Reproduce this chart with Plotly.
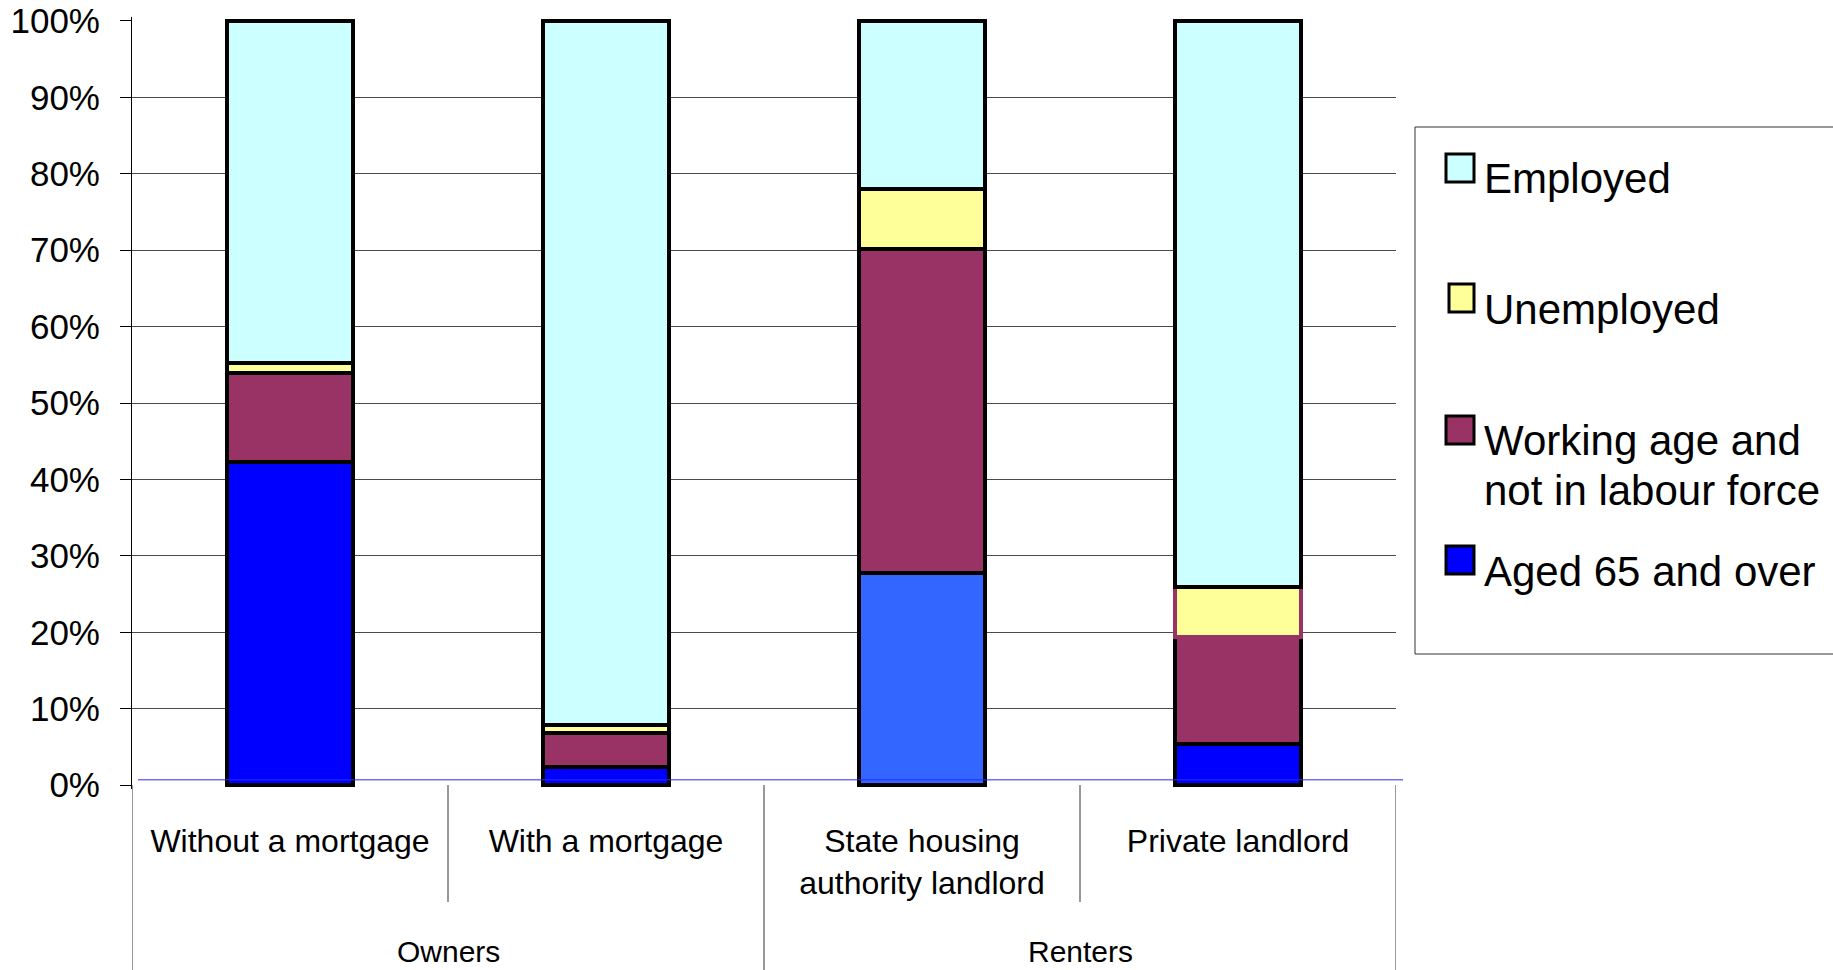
import plotly.graph_objects as go

# ---- data -------------------------------------------------------------
tenure = ["Without a mortgage", "With a mortgage",
          "State housing<br>authority landlord", "Private landlord"]
tenure_group = ["Owners", "Owners", "Renters", "Renters"]
group_names = ["Owners", "Renters"]

aged_65 = [42.3, 2.4, 27.7, 5.4]
working_age_nilf = [11.6, 4.4, 42.5, 14.0]
unemployed = [1.3, 1.1, 7.8, 6.5]
employed = [44.8, 92.1, 22.0, 74.1]

series_names = ["Employed", "Unemployed",
                "Working age and<br>not in labour force", "Aged 65 and over"]
series_colors = ["#CCFFFF", "#FFFF99", "#993366", "#0000FF"]
aged_colors = ["#0000FF", "#0000FF", "#3366FF", "#0000FF"]
unemployed_outline = ["#000000", "#000000", "#000000", "#993366"]

y_ticks = [0, 10, 20, 30, 40, 50, 60, 70, 80, 90, 100]
y_ticktext = [f"{v}%" for v in y_ticks]

# ---- geometry ---------------------------------------------------------
W, H = 1833, 970
ML, MR, MT, MB = 132, 437, 17, 181
PW, PH = W - ML - MR, H - MT - MB
FONT = "Arial, Liberation Sans, sans-serif"


def px_x(px):
    return (px - ML) / PW


def px_y(py):
    return (H - MB - py) / PH


fig = go.Figure()

stack = [
    ("Aged 65 and over", aged_65, aged_colors, "#000000"),
    ("Working age and not in labour force", working_age_nilf, series_colors[2], "#000000"),
    ("Unemployed", unemployed, series_colors[1], unemployed_outline),
    ("Employed", employed, series_colors[0], "#000000"),
]
for name, vals, col, outline in stack:
    fig.add_trace(go.Bar(
        x=tenure, y=vals, name=name,
        marker=dict(color=col, line=dict(color=outline, width=4)),
        showlegend=False,
    ))

fig.update_layout(
    width=W, height=H, autosize=False,
    margin=dict(l=ML, r=MR, t=MT, b=MB, pad=0, autoexpand=False),
    barmode="stack", bargap=0.6,
    plot_bgcolor="white", paper_bgcolor="white",
    font=dict(family=FONT, color="black"),
    xaxis=dict(
        type="category", categoryorder="array", categoryarray=tenure,
        range=[-0.5, 3.5], showgrid=False, showline=False, zeroline=False,
        ticks="", tickfont=dict(size=32), ticklabelstandoff=30,
        automargin=False,
    ),
    yaxis=dict(
        range=[-0.5, 100.5], tickvals=y_ticks, ticktext=y_ticktext,
        ticks="outside", ticklen=11, tickcolor="black", tickwidth=1,
        showline=True, linecolor="black", linewidth=1,
        showgrid=False, zeroline=False, automargin=False,
        tickfont=dict(size=35), ticklabelstandoff=13,
        minor=dict(tickvals=y_ticks[1:-1], showgrid=True,
                   gridcolor="#4a4a4a", gridwidth=1, ticks=""),
    ),
)

shapes = []
# thin blue baseline just above 0%
shapes.append(dict(type="line", xref="paper", yref="y",
                   x0=px_x(138), x1=px_x(1403), y0=0.7, y1=0.7,
                   line=dict(color="#2a2aff", width=1), layer="above"))
# category dividers below the axis
for xv in [0.5, 2.5]:
    shapes.append(dict(type="line", xref="x", yref="paper",
                       x0=xv, x1=xv, y0=px_y(785), y1=px_y(902),
                       line=dict(color="#333333", width=1)))
for xv in [-0.5, 1.5, 3.5]:
    shapes.append(dict(type="line", xref="x", yref="paper",
                       x0=xv, x1=xv, y0=px_y(785), y1=px_y(972),
                       line=dict(color="#333333", width=1)))

annotations = []
for i, g in enumerate(group_names):
    annotations.append(dict(text=g, xref="x", yref="paper",
                            x=0.5 + 2 * i, y=px_y(951), showarrow=False,
                            xanchor="center", yanchor="middle",
                            font=dict(size=30)))

# legend panel
shapes.append(dict(type="rect", xref="paper", yref="paper",
                   x0=px_x(1415), x1=px_x(1860), y0=px_y(127), y1=px_y(654),
                   line=dict(color="#333333", width=1), fillcolor="white"))
entry_y = [179, 309, 441, 571]
for name, col, cy in zip(series_names, series_colors, entry_y):
    sx = 1446 if name != "Unemployed" else 1449
    shapes.append(dict(type="rect", xref="paper", yref="paper",
                       x0=px_x(sx), x1=px_x(1474),
                       y0=px_y(cy - 25), y1=px_y(cy + 3),
                       line=dict(color="black", width=3), fillcolor=col))
    for k, line in enumerate(name.split("<br>")):
        annotations.append(dict(text=line, xref="paper", yref="paper",
                                x=px_x(1482), y=px_y(cy + 50 * k),
                                showarrow=False, xanchor="left",
                                yanchor="middle", font=dict(size=42)))

fig.update_layout(shapes=shapes, annotations=annotations)
fig.write_html("out.html")
